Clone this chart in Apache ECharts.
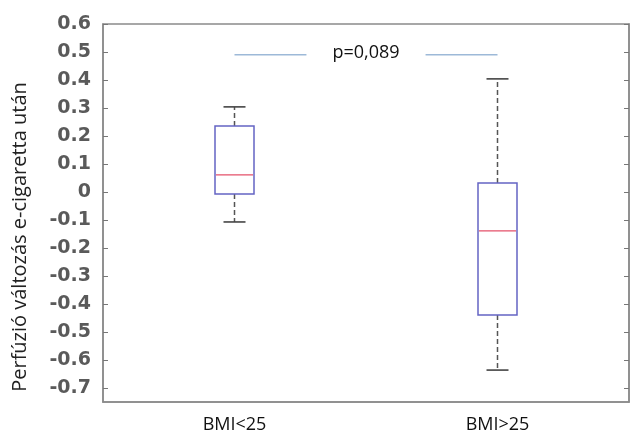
<!DOCTYPE html>
<html>
<head>
<meta charset="utf-8">
<script src="https://cdn.jsdelivr.net/npm/echarts@6/dist/echarts.min.js"></script>
<style>
html,body{margin:0;padding:0;background:#fff;}
#chart{width:643px;height:436px;}
</style>
</head>
<body>
<div id="chart"></div>
<script>
var categories = ['BMI<25', 'BMI>25'];
var whiskerLow = [-0.107, -0.636];
var q1 = [-0.007, -0.439];
var median = [0.061, -0.139];
var q3 = [0.236, 0.032];
var whiskerHigh = [0.304, 0.404];
var tickValues = [-0.7, -0.6, -0.5, -0.4, -0.3, -0.2, -0.1, 0, 0.1, 0.2, 0.3, 0.4, 0.5, 0.6];
var pText = 'p=0,089';
var pLevel = 0.49;
var yTitle = 'Perfúzió változás e-cigaretta után';

var chart = echarts.init(document.getElementById('chart'), null, {renderer: 'canvas'});

var boxData = categories.map(function (c, i) {
  return [i, whiskerLow[i], q1[i], median[i], q3[i], whiskerHigh[i]];
});

function fmt(v) {
  return (Math.round(v * 10) / 10).toString();
}

var option = {
  backgroundColor: '#fff',
  animation: false,
  grid: {
    left: 103, top: 24, right: 14, bottom: 34,
    show: true, borderColor: '#8a8a8a', borderWidth: 1.5, backgroundColor: '#fff'
  },
  xAxis: {
    type: 'category',
    data: categories,
    axisLine: {onZero: false, lineStyle: {color: '#8a8a8a', width: 1.5}},
    axisTick: {inside: true, alignWithLabel: true, length: 5, lineStyle: {color: '#777'}},
    axisLabel: {color: '#111', fontFamily: 'Open Sans', fontSize: 18, margin: 14},
    splitLine: {show: false}
  },
  yAxis: [{
    type: 'value',
    min: -0.75, max: 0.6,
    axisLine: {show: true, lineStyle: {color: '#8a8a8a', width: 1.5}},
    axisTick: {show: true, inside: true, length: 5, customValues: tickValues, lineStyle: {color: '#777'}},
    axisLabel: {
      customValues: tickValues,
      formatter: fmt,
      color: '#5a5a5a', fontFamily: 'DejaVu Sans', fontWeight: 'bold', fontSize: 19,
      margin: 12, padding: [6, 0, 0, 0]
    },
    splitLine: {show: false}
  }, {
    type: 'value',
    position: 'right',
    min: -0.75, max: 0.6,
    axisLine: {show: true, lineStyle: {color: '#8a8a8a', width: 1.5}},
    axisTick: {show: true, inside: true, length: 5, customValues: tickValues, lineStyle: {color: '#777'}},
    axisLabel: {show: false},
    splitLine: {show: false}
  }],
  graphic: [{
    type: 'text',
    x: 20, y: 237,
    rotation: Math.PI / 2,
    style: {
      text: yTitle,
      fontFamily: 'Open Sans', fontSize: 20, fill: '#222',
      align: 'center', verticalAlign: 'middle'
    }
  }],
  series: [{
    type: 'custom',
    data: boxData,
    encode: {x: 0, y: [1, 2, 3, 4, 5]},
    renderItem: function (params, api) {
      var idx = api.value(0);
      var pLow = api.coord([idx, api.value(1)]);
      var pQ1 = api.coord([idx, api.value(2)]);
      var pMed = api.coord([idx, api.value(3)]);
      var pQ3 = api.coord([idx, api.value(4)]);
      var pHigh = api.coord([idx, api.value(5)]);
      var cx = pQ1[0];
      var bw = 39, cw = 22;
      var dash = {stroke: '#555', lineWidth: 1.5, lineDash: [5, 3]};
      return {
        type: 'group',
        children: [
          {type: 'line', shape: {x1: cx, y1: pQ3[1], x2: cx, y2: pHigh[1]}, style: dash},
          {type: 'line', shape: {x1: cx, y1: pQ1[1], x2: cx, y2: pLow[1]}, style: dash},
          {type: 'line', shape: {x1: cx - cw / 2, y1: pHigh[1], x2: cx + cw / 2, y2: pHigh[1]}, style: {stroke: '#444', lineWidth: 1.6}},
          {type: 'line', shape: {x1: cx - cw / 2, y1: pLow[1], x2: cx + cw / 2, y2: pLow[1]}, style: {stroke: '#444', lineWidth: 1.6}},
          {type: 'rect', shape: {x: cx - bw / 2, y: pQ3[1], width: bw, height: pQ1[1] - pQ3[1]}, style: {fill: '#fff', stroke: '#6464c4', lineWidth: 1.5}},
          {type: 'line', shape: {x1: cx - bw / 2 + 1, y1: pMed[1], x2: cx + bw / 2 - 1, y2: pMed[1]}, style: {stroke: '#e4506a', lineWidth: 1.3}}
        ]
      };
    }
  }, {
    type: 'custom',
    data: [[0, 1, pLevel]],
    encode: {x: [0, 1], y: 2},
    renderItem: function (params, api) {
      var a = api.coord([api.value(0), api.value(2)]);
      var b = api.coord([api.value(1), api.value(2)]);
      return {
        type: 'group',
        children: [
          {type: 'line', shape: {x1: a[0], y1: a[1], x2: b[0], y2: b[1]}, style: {stroke: '#9db9d8', lineWidth: 1.6}},
          {type: 'text', x: (a[0] + b[0]) / 2, y: a[1] - 2, style: {
            text: pText, fontFamily: 'Open Sans', fontSize: 18, fill: '#111',
            align: 'center', verticalAlign: 'middle',
            backgroundColor: '#fff', padding: [2, 26]
          }}
        ]
      };
    }
  }]
};
chart.setOption(option);
</script>
</body>
</html>
